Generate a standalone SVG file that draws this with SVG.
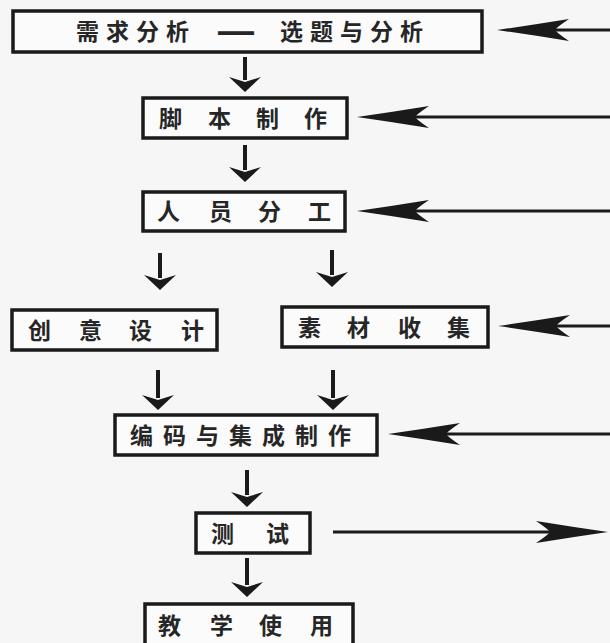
<svg xmlns="http://www.w3.org/2000/svg" width="610" height="643" viewBox="0 0 610 643">
  <style>
    .box { fill: #fbfbfb; stroke: #1a1a1a; stroke-width: 3.5; }
    .lbl { font-family: "Noto Sans CJK SC", "Noto Sans", sans-serif; font-size: 23px; font-weight: bold; fill: #262626; }
    .dash { font-family: "Liberation Sans", sans-serif; font-size: 36px; font-weight: bold; }
    .down { stroke: #1a1a1a; stroke-width: 4; fill: none; marker-end: url(#head); }
    .feed { stroke: #1a1a1a; stroke-width: 3; fill: none; marker-end: url(#dart); }
  </style>
  <defs>
    <marker id="head" markerUnits="userSpaceOnUse" markerWidth="40" markerHeight="40" viewBox="-20 -20 40 40" refX="0" refY="0" orient="auto" overflow="visible">
      <path d="M12,0 L-3,-16 L2,0 L-3,16 Z" fill="#1a1a1a"/>
    </marker>
    <marker id="dart" markerUnits="userSpaceOnUse" markerWidth="100" markerHeight="40" viewBox="-80 -20 100 40" refX="0" refY="0" orient="auto" overflow="visible">
      <path d="M20,0 Q-15,-5 -52,-11 Q-40,-3 -38,0 Q-40,3 -52,11 Q-15,5 20,0 Z" fill="#1a1a1a"/>
    </marker>
  </defs>
  <rect x="0" y="0" width="610" height="643" fill="#f6f6f6"/>

  <g id="connectors">
    <line class="down" x1="245" y1="57" x2="245" y2="80"/>
    <line class="down" x1="245" y1="145" x2="245" y2="170"/>
    <line class="down" x1="160" y1="253" x2="160" y2="278"/>
    <line class="down" x1="332" y1="250" x2="332" y2="275"/>
    <line class="down" x1="158" y1="370" x2="158" y2="398"/>
    <line class="down" x1="333" y1="370" x2="333" y2="398"/>
    <line class="down" x1="247" y1="470" x2="247" y2="495"/>
    <line class="down" x1="247" y1="558" x2="247" y2="585"/>
    <line class="feed" x1="612" y1="30" x2="517" y2="30"/>
    <line class="feed" x1="612" y1="117" x2="377" y2="117"/>
    <line class="feed" x1="612" y1="211" x2="377" y2="211"/>
    <line class="feed" x1="612" y1="326" x2="518" y2="326"/>
    <line class="feed" x1="612" y1="434" x2="408" y2="434"/>
    <line class="feed" x1="333" y1="532" x2="588" y2="532"/>
  </g>

  <g id="n1">
    <rect class="box" x="13" y="11" width="469" height="41"/>
    <text class="lbl" y="40"><tspan x="76 106 136 166">需求分析</tspan><tspan class="dash" x="218" y="43">—</tspan><tspan x="280 310 340 370 400" y="40">选题与分析</tspan></text>
  </g>
  <g id="n2">
    <rect class="box" x="143" y="98" width="204" height="40"/>
    <text class="lbl" x="159 208 256 304" y="127">脚本制作</text>
  </g>
  <g id="n3">
    <rect class="box" x="143" y="192" width="202" height="39"/>
    <text class="lbl" x="157 209 258 308" y="220">人员分工</text>
  </g>
  <g id="n4">
    <rect class="box" x="12" y="310" width="205" height="40"/>
    <text class="lbl" x="28 79 129 181" y="339">创意设计</text>
  </g>
  <g id="n5">
    <rect class="box" x="282" y="307" width="206" height="40"/>
    <text class="lbl" x="298 347 398 447" y="336">素材收集</text>
  </g>
  <g id="n6">
    <rect class="box" x="115" y="415" width="262" height="40"/>
    <text class="lbl" x="130 163 196 229 262 295 328" y="444">编码与集成制作</text>
  </g>
  <g id="n7">
    <rect class="box" x="196" y="513" width="114" height="40"/>
    <text class="lbl" x="211 266" y="542">测试</text>
  </g>
  <g id="n8">
    <rect class="box" x="145" y="604" width="208" height="50"/>
    <text class="lbl" x="158 210 259 310" y="634">教学使用</text>
  </g>
</svg>
